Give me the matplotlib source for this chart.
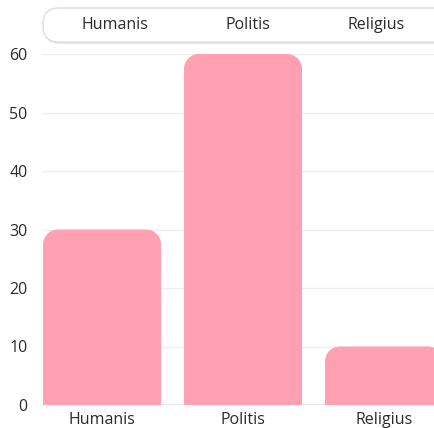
import matplotlib
matplotlib.use("Agg")
import matplotlib.pyplot as plt
from matplotlib.path import Path
from matplotlib.patches import PathPatch, FancyBboxPatch
from matplotlib.transforms import IdentityTransform
import numpy as np

categories = ["Humanis", "Politis", "Religius"]
values = [30, 60, 10]
yticks = [0, 10, 20, 30, 40, 50, 60]

plt.rcParams['font.family'] = ['Open Sans', 'DejaVu Sans']

W, H = 434, 428
fig = plt.figure(figsize=(W / 100, H / 100), dpi=100)
fig.patch.set_facecolor("white")

px_unit = 141.0
bw = 118.0 / px_unit
x0_px, y0_px, ytop_px = 43.0, 405.0, 54.0
xmin = -bw / 2
xmax = xmin + 420.0 / px_unit
ax = fig.add_axes([x0_px / W, (H - y0_px) / H, 420.0 / W, (y0_px - ytop_px) / H])
ax.set_xlim(xmin, xmax)
ax.set_ylim(0, 60)

color = "#FFA0B3"
ypx = (y0_px - ytop_px) / 60.0
r = 15.0
rx, ry = r / px_unit, r / ypx
k = 0.5523
x = np.arange(len(categories))
bars = ax.bar(x, values, width=bw, color="none", edgecolor="none")
for b in bars:
    L = b.get_x(); R = L + b.get_width(); T = b.get_height()
    verts = [(L, 0), (L, T - ry),
             (L, T - ry + k * ry), (L + rx - k * rx, T), (L + rx, T),
             (R - rx, T),
             (R - rx + k * rx, T), (R, T - ry + k * ry), (R, T - ry),
             (R, 0), (L, 0)]
    codes = [Path.MOVETO, Path.LINETO,
             Path.CURVE4, Path.CURVE4, Path.CURVE4,
             Path.LINETO,
             Path.CURVE4, Path.CURVE4, Path.CURVE4,
             Path.LINETO, Path.CLOSEPOLY]
    ax.add_patch(PathPatch(Path(verts, codes), facecolor=color, edgecolor="none", zorder=2))

for s in ax.spines.values():
    s.set_visible(False)
ax.set_yticks(yticks)
ax.set_yticklabels([str(t) for t in yticks])
ax.set_xticks(x)
ax.set_xticklabels(categories)
ax.tick_params(axis="both", length=0, labelsize=11.5, colors="#2a2a2a")
ax.tick_params(axis="y", pad=11)
ax.tick_params(axis="x", pad=5)
ax.yaxis.grid(True, color="#EEEEEE", linewidth=1)
ax.axhline(0, color="#E6E6E6", linewidth=1.5, zorder=1)
ax.set_axisbelow(True)

# legend box (pixel coordinates)
idt = IdentityTransform()
sh = FancyBboxPatch((44, H - 44), 410, 34,
                    boxstyle="round,pad=0,rounding_size=16",
                    transform=idt, facecolor="#E6E6E6",
                    edgecolor="none", zorder=4)
lb = FancyBboxPatch((43, H - 42), 410, 34,
                    boxstyle="round,pad=0,rounding_size=16",
                    transform=idt, facecolor="white",
                    edgecolor="#DDDDDD", linewidth=1, zorder=5)
fig.patches.extend([sh, lb])
for name, cx in zip(categories, [115, 248, 376]):
    fig.text(cx / W, (H - 25) / H, name, ha="center", va="center",
             fontsize=11.5, color="#2a2a2a", zorder=6)

fig.savefig("out.png", dpi=100)
